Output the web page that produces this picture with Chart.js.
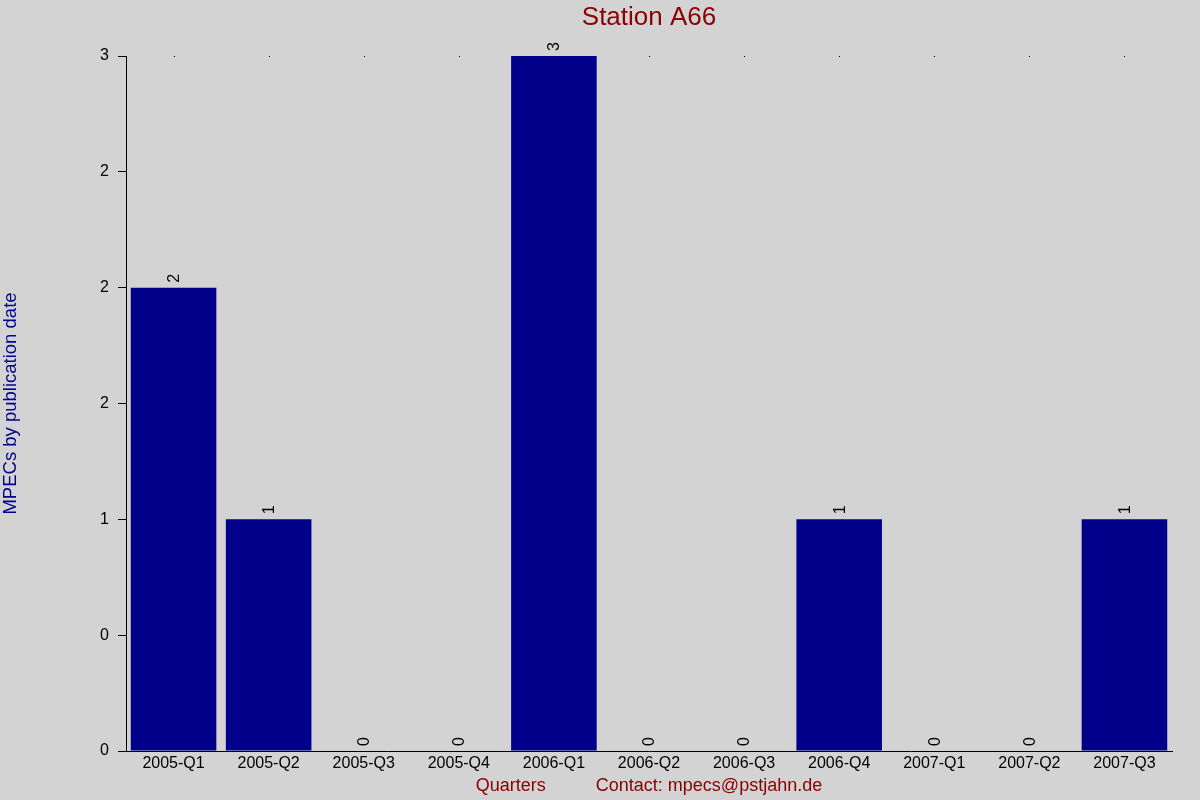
<!DOCTYPE html>
<html>
<head>
<meta charset="utf-8">
<title>Station A66</title>
<script src="https://cdn.jsdelivr.net/npm/chart.js@4.4.1/dist/chart.umd.min.js"></script>
<style>
  html, body { margin: 0; padding: 0; background: #d3d3d3; }
  canvas { display: block; }
</style>
</head>
<body>
<canvas id="chart" width="1200" height="800"></canvas>
<script>
// Chart data
const quarters = ['2005-Q1', '2005-Q2', '2005-Q3', '2005-Q4', '2006-Q1', '2006-Q2',
  '2006-Q3', '2006-Q4', '2007-Q1', '2007-Q2', '2007-Q3'];
const mpecCounts = [2, 1, 0, 0, 3, 0, 0, 1, 0, 0, 1];
const yTickLabels = ['0', '0', '1', '2', '2', '2', '3'];

const FONT = '"Liberation Sans", Arial, sans-serif';

/**
 * Background, value labels above bars and the dot row along the top
 */
const decorPlugin = {
  id: 'decor',
  beforeDraw(chart) {
    const ctx = chart.ctx;
    ctx.save();
    ctx.fillStyle = '#d3d3d3';
    ctx.fillRect(0, 0, chart.width, chart.height);
    ctx.restore();
  },
  afterDatasetsDraw(chart) {
    const ctx = chart.ctx;
    const meta = chart.getDatasetMeta(0);
    const top = chart.chartArea.top;
    ctx.save();
    ctx.fillStyle = '#000';
    ctx.font = '16px ' + FONT;
    ctx.textAlign = 'left';
    ctx.textBaseline = 'middle';
    meta.data.forEach(function(bar, i) {
      // dot at the top of each category
      ctx.fillRect(Math.round(bar.x), top, 1, 1);
      // rotated value label
      ctx.save();
      ctx.translate(bar.x + 1, bar.y - 5);
      ctx.rotate(-Math.PI / 2);
      ctx.fillText(String(mpecCounts[i]), 0, 0);
      ctx.restore();
    });
    ctx.restore();
  }
};

new Chart(document.getElementById('chart'), {
  type: 'bar',
  data: {
    labels: quarters,
    datasets: [{
      label: 'MPECs',
      data: mpecCounts,
      backgroundColor: '#00008b',
      borderWidth: 0,
      barPercentage: 0.9,
      categoryPercentage: 1.0
    }]
  },
  options: {
    responsive: false,
    animation: false,
    devicePixelRatio: 1,
    layout: { padding: { top: 0, left: 0, right: 28, bottom: 0 } },
    plugins: {
      legend: { display: false },
      tooltip: { enabled: false },
      title: {
        display: true,
        fullSize: false,
        text: 'Station A66',
        color: '#8b0000',
        font: { family: FONT, size: 26, weight: 'normal', lineHeight: 1.2 },
        padding: { top: 2, bottom: 22.8 }
      }
    },
    scales: {
      x: {
        offset: true,
        grid: { display: false, drawTicks: false },
        border: { display: true, color: '#000', width: 1 },
        ticks: {
          color: '#000',
          font: { family: FONT, size: 16 },
          padding: 3,
          maxRotation: 0,
          autoSkip: false
        },
        title: {
          display: true,
          text: 'Quarters          Contact: mpecs@pstjahn.de',
          color: '#8b0000',
          font: { family: FONT, size: 18, lineHeight: 1.2 },
          padding: { top: 0, bottom: 3 }
        },
        afterFit: function(scale) { scale.height = 49; }
      },
      y: {
        min: 0,
        max: 3,
        grid: {
          drawOnChartArea: false,
          drawTicks: true,
          tickLength: 8,
          color: '#000'
        },
        border: { display: true, color: '#000', width: 1 },
        ticks: {
          stepSize: 0.5,
          color: '#000',
          font: { family: FONT, size: 16 },
          padding: 9,
          callback: function(value, index) {
            return yTickLabels[index];
          }
        },
        title: {
          display: true,
          text: 'MPECs by publication date',
          color: '#00008b',
          font: { family: FONT, size: 18.5, lineHeight: 1.2 },
          padding: 0
        },
        afterFit: function(scale) { scale.width = 126; }
      }
    }
  },
  plugins: [decorPlugin]
});
</script>
</body>
</html>
